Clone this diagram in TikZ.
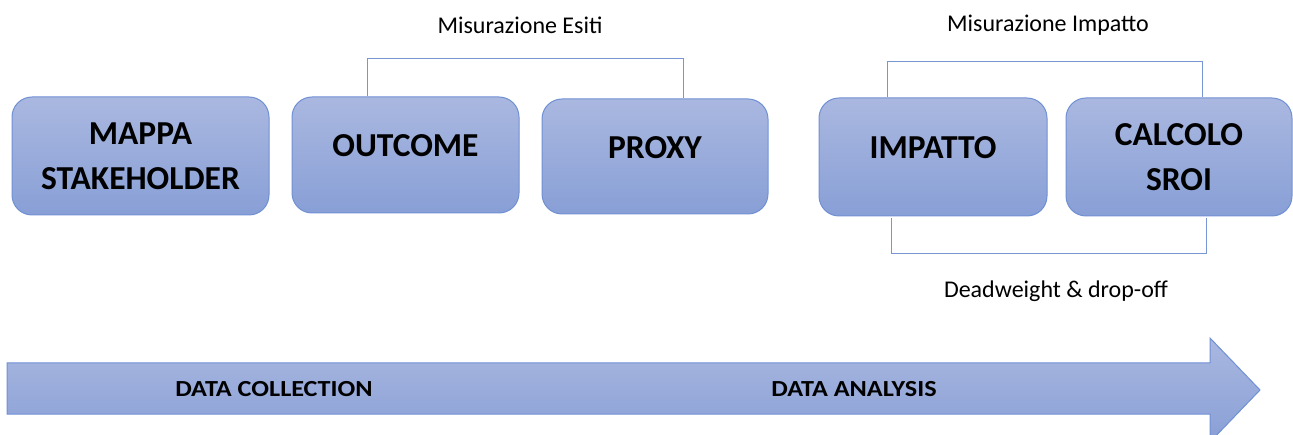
\documentclass[tikz,border=0pt]{standalone}
\usepackage{fontspec}
\setmainfont{Carlito}
\definecolor{boxtop}{RGB}{170,184,224}
\definecolor{boxbot}{RGB}{136,159,214}
\definecolor{boxline}{RGB}{112,144,212}
\definecolor{linkline}{RGB}{120,150,212}
\tikzset{
  stagebox/.style={draw=boxline, line width=1pt, rounded corners=20pt,
    top color=boxtop, bottom color=boxbot, inner sep=0pt},
  stagetext/.style={align=center, font=\fontsize{33.5}{45}\selectfont\bfseries, inner sep=0pt},
  bracket/.style={draw=linkline, line width=1pt},
  caption/.style={font=\fontsize{24}{28}\selectfont, inner sep=0pt},
  phasetext/.style={font=\fontsize{23}{27}\selectfont\bfseries, inner sep=0pt}
}
\newcommand{\widetext}[1]{\scalebox{1.14}[1]{#1}}
\begin{document}
\begin{tikzpicture}[x=1pt, y=-1pt]
\useasboundingbox (0,0) rectangle (1293,435);

% timeline arrow
\path[draw=boxline, line width=1pt, top color=boxtop, bottom color=boxbot]
  (7,363) -- (1210,363) -- (1210,338) -- (1260,390) -- (1210,442)
  -- (1210,414) -- (7,414) -- cycle;
\node[phasetext] (collect) at (274,389) {\widetext{DATA COLLECTION}};
\node[phasetext] (analyse) at (854,389) {\widetext{DATA ANALYSIS}};

% stage boxes
\node[stagebox, minimum width=257pt, minimum height=118pt] (mappa) at (140.5,156) {};
\node[stagebox, minimum width=227pt, minimum height=116pt] (outcome) at (405.5,155) {};
\node[stagebox, minimum width=226pt, minimum height=115pt] (proxy) at (655,156.5) {};
\node[stagebox, minimum width=228pt, minimum height=118pt] (impatto) at (933,157) {};
\node[stagebox, minimum width=226pt, minimum height=118pt] (calcolo) at (1179,157) {};

\node[stagetext] (tmappa) at (mappa.center) {MAPPA\\STAKEHOLDER};
\node[stagetext] (toutcome) at ([yshift=9pt]outcome.center) {OUTCOME};
\node[stagetext] (tproxy) at ([yshift=9pt]proxy.center) {PROXY};
\node[stagetext] (timpatto) at ([yshift=9pt]impatto.center) {IMPATTO};
\node[stagetext] (tcalcolo) at (calcolo.center) {CALCOLO\\SROI};

% grouping brackets
\draw[bracket] ([xshift=76pt]outcome.north west) -- ++(0,-38)
  -| ([xshift=142pt]proxy.north west);
\draw[bracket] ([xshift=69pt]impatto.north west) -- ++(0,-36)
  -| ([xshift=137pt]calcolo.north west);
\draw[bracket] ([xshift=73pt]impatto.south west) ++(0,2) -- ++(0,35)
  -| ([xshift=141pt,yshift=-2pt]calcolo.south west);

% group captions
\node[caption] (esiti) at (520,25) {Misurazione Esiti};
\node[caption] (impattolbl) at (1048,25) {Misurazione Impatto};
\node[caption] (dead) at (1056,291) {Deadweight \& drop-off};
\end{tikzpicture}
\end{document}
